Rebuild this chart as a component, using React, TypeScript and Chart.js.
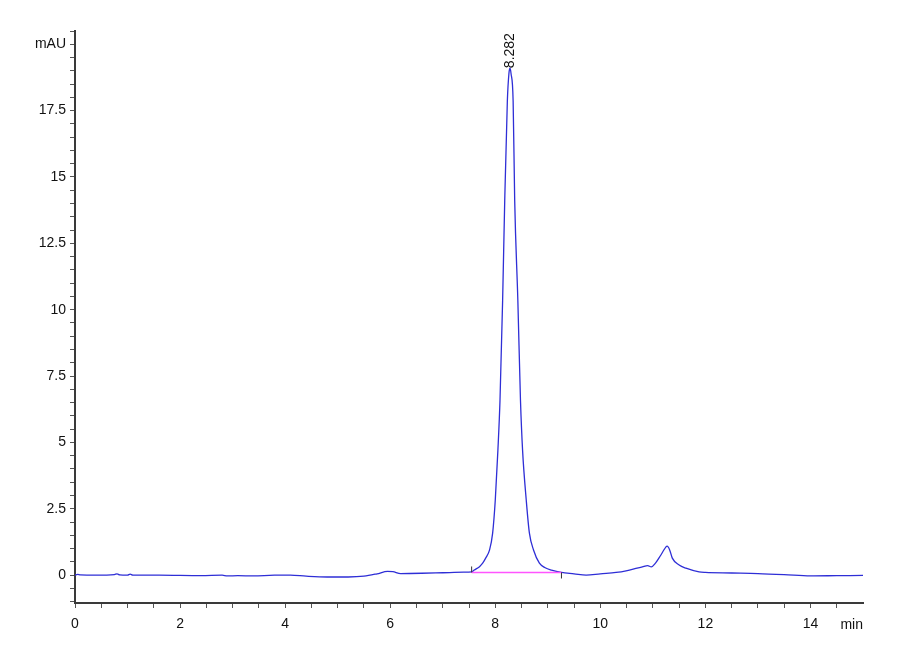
import { useEffect, useRef } from "react"
import { Chart, registerables } from "chart.js"

Chart.register(...registerables)

// retention time (min) and absorbance (mAU)
const times = [
  0.0, 0.05, 0.1, 0.4, 0.75, 0.8, 0.85, 1.0, 1.05, 1.1, 1.6, 2.4, 2.8, 2.9, 3.1, 3.4, 3.8, 4.1, 4.4, 4.8,
  5.2, 5.5, 5.75, 5.95, 6.05, 6.2, 6.6, 7.0, 7.4, 7.55, 7.6, 7.7, 7.76, 7.82, 7.89, 7.95, 8.0, 8.05, 8.09, 8.14,
  8.18, 8.23, 8.26, 8.28, 8.3, 8.34, 8.37, 8.43, 8.48, 8.52, 8.59, 8.65, 8.73, 8.84, 8.95, 9.07, 9.26, 9.5, 9.73, 10.0,
  10.3, 10.49, 10.7, 10.8, 10.9, 10.97, 11.05, 11.15, 11.22, 11.27, 11.32, 11.37, 11.5, 11.63, 11.88, 12.0, 12.5, 13.0, 13.5, 14.0,
  14.5, 15.0,
]
const signal = [
  0.0, 0.03, 0.01, 0.0, 0.02, 0.05, 0.01, 0.0, 0.04, 0.0, 0.0, -0.02, 0.0, -0.03, -0.02, -0.03, 0.0, 0.0, -0.04, -0.07,
  -0.07, -0.04, 0.05, 0.14, 0.13, 0.06, 0.07, 0.09, 0.11, 0.12, 0.19, 0.32, 0.45, 0.65, 0.94, 1.58, 2.82, 4.7, 6.58, 10.34,
  14.1, 17.86, 18.9, 19.1, 18.9, 17.86, 14.1, 10.34, 6.58, 4.7, 2.82, 1.58, 0.94, 0.45, 0.28, 0.19, 0.1, 0.05, 0.0, 0.05,
  0.1, 0.16, 0.26, 0.31, 0.36, 0.31, 0.45, 0.75, 0.98, 1.09, 0.95, 0.64, 0.38, 0.26, 0.12, 0.1, 0.08, 0.06, 0.02, -0.03,
  -0.02, -0.01,
]

// integration baseline of the main peak
const baseStart = [7.55, 0.1]
const baseEnd = [9.26, 0.1]

const peakTime = 8.282
const peakLabel = "8.282"
const peakHeight = 19.1

const xLabels = [0, 2, 4, 6, 8, 10, 12, 14]
const yLabels = [0, 2.5, 5, 7.5, 10, 12.5, 15, 17.5]

const tickFont = '"Liberation Sans Narrow", "Liberation Sans", Arial, sans-serif'

const annotations = {
  id: "annotations",
  afterDatasetsDraw(chart: Chart) {
    const { ctx, scales } = chart
    const x = scales.x
    const y = scales.y
    ctx.save()
    // start / end markers of the integration
    ctx.strokeStyle = "#333"
    ctx.lineWidth = 1
    const sx = x.getPixelForValue(baseStart[0])
    const sy = y.getPixelForValue(baseStart[1])
    const ex = x.getPixelForValue(baseEnd[0])
    const ey = y.getPixelForValue(baseEnd[1])
    ctx.beginPath()
    ctx.moveTo(sx, sy)
    ctx.lineTo(sx, sy - 6)
    ctx.moveTo(ex, ey)
    ctx.lineTo(ex, ey + 6)
    ctx.stroke()

    // retention time label
    const px = x.getPixelForValue(peakTime)
    const py = y.getPixelForValue(peakHeight)
    ctx.translate(px, py)
    ctx.rotate(-Math.PI / 2)
    ctx.fillStyle = "#111"
    ctx.font = '14px "Liberation Sans", Arial, sans-serif'
    ctx.textAlign = "left"
    ctx.textBaseline = "middle"
    ctx.fillText(peakLabel, 0, 0)
    ctx.restore()

    // x axis unit
    ctx.save()
    ctx.fillStyle = "#111"
    ctx.font = "14px " + tickFont
    ctx.textAlign = "right"
    ctx.textBaseline = "middle"
    ctx.fillText("min", x.right, x.top + 22)
    ctx.restore()
  },
}

export default function App() {
  const canvasRef = useRef<HTMLCanvasElement>(null)

  useEffect(() => {
    if (!canvasRef.current) return
    const trace = times.map((t, i) => ({ x: t, y: signal[i] }))

    const chart = new Chart(canvasRef.current, {
      type: "line",
      data: {
        datasets: [
          {
            label: "baseline",
            data: [
              { x: baseStart[0], y: baseStart[1] },
              { x: baseEnd[0], y: baseEnd[1] },
            ],
            borderColor: "#ff55ff",
            borderWidth: 1.5,
            pointRadius: 0,
          },
          {
            label: "signal",
            data: trace,
            borderColor: "#2e2ed6",
            borderWidth: 1.3,
            pointRadius: 0,
            cubicInterpolationMode: "monotone",
          },
        ],
      },
      plugins: [annotations],
      options: {
        animation: false,
        responsive: true,
        maintainAspectRatio: false,
        layout: { padding: { left: 0, top: 31, right: 37, bottom: 0 } },
        plugins: {
          legend: { display: false },
          tooltip: { enabled: false },
        },
        scales: {
          x: {
            type: "linear",
            min: 0,
            max: 15,
            afterFit: (scale) => {
              scale.height = 57
            },
            border: { display: true, color: "#3a3a3a", width: 2 },
            grid: {
              display: true,
              drawOnChartArea: false,
              drawTicks: true,
              tickLength: 5,
              color: (ctx) => (ctx.tick && ctx.tick.value >= 15 ? "rgba(0,0,0,0)" : "#555"),
            },
            ticks: {
              stepSize: 0.5,
              autoSkip: false,
              maxRotation: 0,
              includeBounds: false,
              padding: 8,
              color: "#111",
              font: { family: tickFont, size: 14 },
              callback: (v) => (xLabels.includes(Number(v)) ? String(v) : ""),
            },
          },
          y: {
            type: "linear",
            min: -1.05,
            max: 20.5,
            afterFit: (scale) => {
              scale.width = 75
            },
            border: { display: true, color: "#3a3a3a", width: 2 },
            grid: {
              display: true,
              drawOnChartArea: false,
              drawTicks: true,
              tickLength: 5,
              color: "#555",
            },
            ticks: {
              stepSize: 0.5,
              autoSkip: false,
              includeBounds: false,
              padding: 4,
              color: "#111",
              font: { family: tickFont, size: 14 },
              callback: (v) => {
                const n = Number(v)
                if (Math.abs(n - 20) < 1e-6) return "mAU"
                return yLabels.includes(n) ? String(n) : ""
              },
            },
          },
        },
      },
    })

    return () => chart.destroy()
  }, [])

  return (
    <div style={{ position: "absolute", left: 0, top: 0, width: 900, height: 660, background: "#fff" }}>
      <canvas ref={canvasRef}></canvas>
    </div>
  )
}
